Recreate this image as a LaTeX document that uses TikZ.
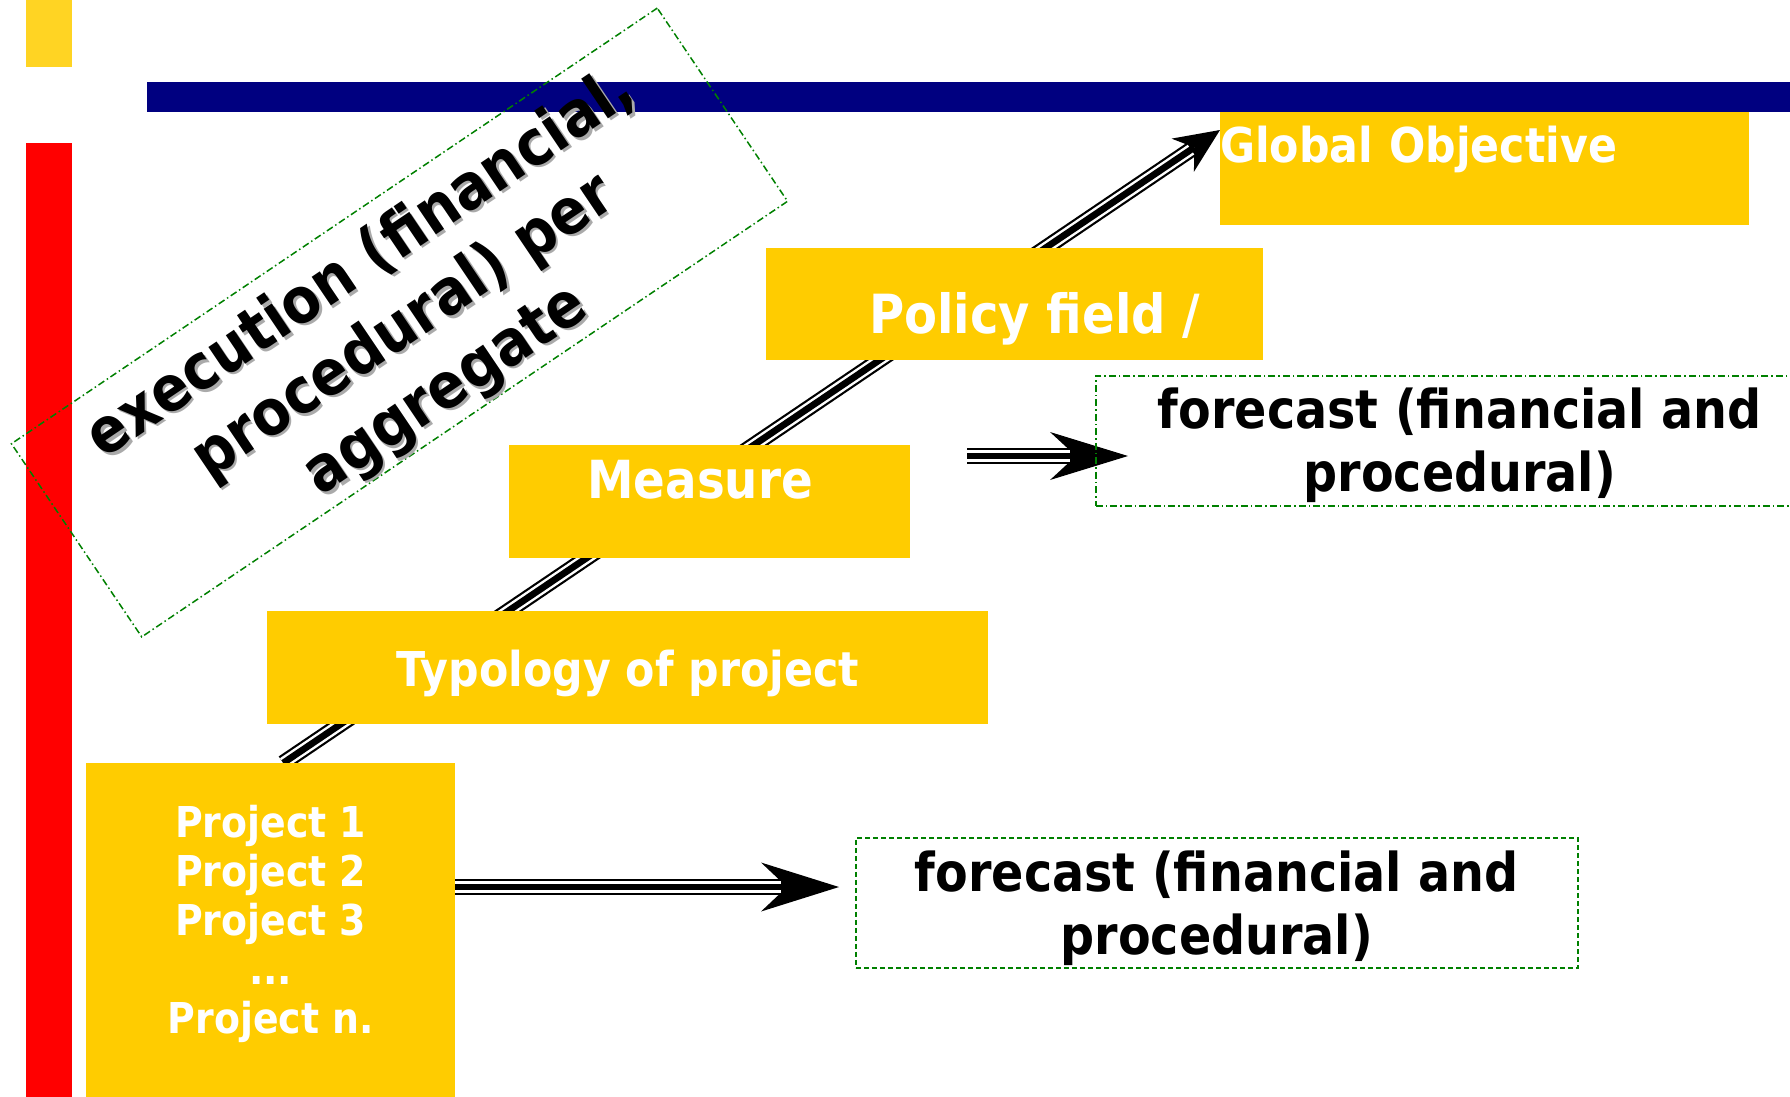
\documentclass[tikz,border=0pt]{standalone}
\usepackage{fontspec}
\newfontfamily\dv[FakeStretch=0.89]{DejaVu Sans}
\usetikzlibrary{arrows.meta,calc}
\pgfdeclarelayer{behind}
\pgfsetlayers{behind,main}
\definecolor{boxyellow}{RGB}{255,204,0}
\definecolor{topyellow}{RGB}{255,212,35}
\definecolor{navybar}{RGB}{0,0,128}
\definecolor{redbar}{RGB}{255,0,0}
\definecolor{dgreen}{RGB}{0,128,0}
\definecolor{shadowgray}{RGB}{170,170,170}
% start, end, tip length, tip width, inset, shorten white, shorten middle
\newcommand{\triarrow}[7]{%
  \draw[line width=16pt, black, -{Stealth[length=#3, width=#4, inset=#5, line width=0pt]}] (#1) -- (#2);
  \draw[line width=11.6pt, white, shorten >=#6] (#1) -- (#2);
  \draw[line width=6.7pt, black, shorten >=#7] (#1) -- (#2);
}
\tikzset{
  ybox/.style={fill=boxyellow, inner sep=0pt, text=white, anchor=north west},
  fcbox/.style={draw=dgreen, line width=1.6pt, inner sep=0pt, text=black, anchor=north west, align=center,
    font={\dv\bfseries\fontsize{53.5pt}{63pt}\selectfont}},
  dashdot/.style={dash pattern=on 7pt off 3pt on 1.5pt off 3pt},
  shortdash/.style={dash pattern=on 5pt off 3pt},
  rottext/.style={rotate=34, align=center, inner sep=0pt, font={\dv\bfseries\fontsize{63pt}{76pt}\selectfont}}
}
\begin{document}
\begin{tikzpicture}[x=1pt,y=-1pt]
\useasboundingbox (0,0) rectangle (1790,1096);
\clip (0,0) rectangle (1790,1096);
% bars
\fill[topyellow] (26,0) rectangle (72,67);
\fill[navybar] (147,82) rectangle (1790,112);
\fill[redbar] (26,143) rectangle (72,1100);
% rotated annotation
\node[draw=dgreen, line width=1.5pt, dashdot, rotate=34, minimum width=779pt, minimum height=233pt, inner sep=0pt] (execbox) at (399.5,322.5) {};
\node[rottext, text=shadowgray] (execshadow) at ([xshift=2.5pt,yshift=-2.5pt]404,328) {execution (financial,\\procedural) per\\aggregate};
\node[rottext, text=black] (exectext) at (404,328) {execution (financial,\\procedural) per\\aggregate};
% yellow boxes
\node[ybox, minimum width=369pt, minimum height=337pt, text height=270pt, text depth=67pt, align=center,
  font={\dv\bfseries\fontsize{42.5pt}{49pt}\selectfont}] (proj) at (86,763) {Project 1\\Project 2\\Project 3\\...\\Project n.};
\node[ybox, minimum width=721pt, minimum height=113pt, text height=75pt, text depth=38pt,
  font={\dv\bfseries\fontsize{48pt}{56pt}\selectfont}] (typ) at (267,611) {Typology of project};
\node[ybox, minimum width=401pt, minimum height=113pt, text height=53pt, text depth=60pt,
  font={\dv\bfseries\fontsize{52.5pt}{60pt}\selectfont}] (meas) at (509,445) {Measure\hspace*{19pt}};
\node[ybox, minimum width=497pt, minimum height=112pt, text height=85pt, text depth=27pt,
  font={\dv\bfseries\fontsize{54pt}{62pt}\selectfont}] (pol) at (766,248) {\hspace*{40pt}Policy field /};
\node[ybox, minimum width=529pt, minimum height=113pt, text width=529pt, align=left, text height=50pt, text depth=63pt,
  font={\dv\bfseries\fontsize{48pt}{56pt}\selectfont}] (glob) at (1220,112) {Global Objective};
% diagonal triple arrow, behind the boxes
\coordinate (dstart) at ([xshift=12.5pt]proj.north);
\coordinate (dend) at ([yshift=-18pt]glob.north west);
\begin{pgfonlayer}{behind}
\triarrow{dstart}{dend}{45pt}{40pt}{14pt}{35pt}{33pt}
\end{pgfonlayer}
% horizontal arrows
\coordinate (m1) at (967,456);
\coordinate (f1) at (1128,456);
\triarrow{m1}{f1}{78pt}{48pt}{26pt}{58pt}{55pt}
\coordinate (p1) at (proj.east |- 0,887);
\coordinate (f2) at (839,887);
\triarrow{p1}{f2}{78pt}{49pt}{26pt}{58pt}{55pt}
% forecast boxes
\node[fcbox, dashdot, minimum width=728pt, minimum height=130pt, text height=116pt, text depth=14pt] (fc1) at (1095,375) {forecast (financial and\\procedural)};
\node[fcbox, shortdash, minimum width=722pt, minimum height=130pt, text height=117pt, text depth=13pt] (fc2) at (855,837) {forecast (financial and\\procedural)};
\end{tikzpicture}
\end{document}
